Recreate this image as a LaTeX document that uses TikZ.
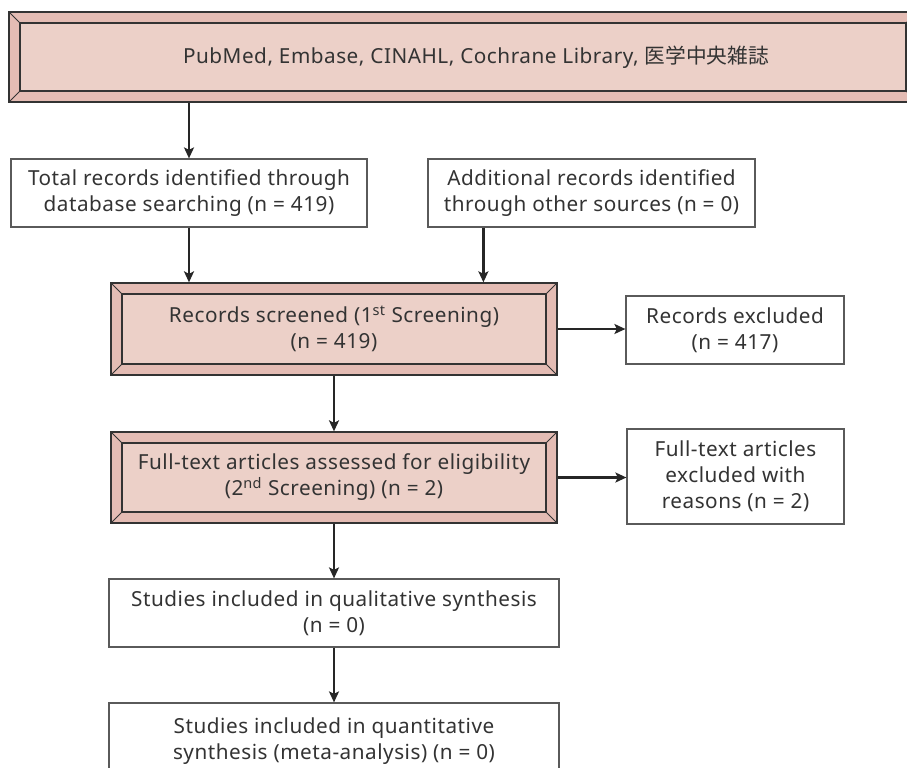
\documentclass[tikz,border=0pt]{standalone}
\usepackage{fontspec}
\setmainfont{Noto Sans}[LetterSpace=2.5]
\newfontfamily\cjk{Noto Sans CJK JP}
\usetikzlibrary{arrows.meta}
\definecolor{outerc}{RGB}{228,188,180}
\definecolor{innerc}{RGB}{236,208,200}
\definecolor{linec}{RGB}{51,51,51}
\definecolor{boxc}{RGB}{90,90,90}
\definecolor{txtc}{RGB}{51,51,51}
\newcommand\mysup[1]{\textsuperscript{#1}}
\begin{document}
\begin{tikzpicture}[x=1bp,y=1bp,
  every node/.style={font=\fontsize{20.8}{26}\selectfont, text=txtc, inner sep=0pt, align=center},
  plain/.style={draw=boxc, line width=1.2bp, fill=white},
  bevel/.style={draw=linec, line width=1.3bp, fill=outerc,
    path picture={
      \coordinate (bnw) at (path picture bounding box.north west);
      \coordinate (bse) at (path picture bounding box.south east);
      \coordinate (bne) at (path picture bounding box.north east);
      \coordinate (bsw) at (path picture bounding box.south west);
      \draw[linec, line width=1.3bp, fill=innerc] ([shift={(11,-11)}]bnw) rectangle ([shift={(-11,11)}]bse);
      \draw[linec, line width=1bp] (bnw) -- ([shift={(11,-11)}]bnw)
        (bse) -- ([shift={(-11,11)}]bse)
        (bne) -- ([shift={(-11,-11)}]bne)
        (bsw) -- ([shift={(11,11)}]bsw);
    }},
  arr/.style={draw=black!85, line width=2.2bp, -{Stealth[length=11bp,width=10bp,inset=2.5bp]}}]
\useasboundingbox (0,0) rectangle (907,-768);
\node[bevel, minimum width=908bp, minimum height=90bp] (db) at (463,-57) {};
\node (dbt) at (476,-57) {PubMed, Embase, CINAHL, Cochrane Library, {\cjk 医学中央雑誌}};
\node[plain, minimum width=356bp, minimum height=68bp] (tot) at (189,-193) {Total records identified through\\database searching (n = 419)};
\node[plain, minimum width=327bp, minimum height=68bp] (add) at (591.5,-193) {Additional records identified\\through other sources (n = 0)};
\node[bevel, minimum width=446bp, minimum height=92bp] (scr) at (334,-329) {Records screened (1\mysup{st} Screening)\\(n = 419)};
\node[plain, minimum width=218bp, minimum height=68bp] (exc) at (735,-330) {Records excluded\\(n = 417)};
\node[bevel, minimum width=446bp, minimum height=91bp] (ft) at (334,-477.5) {Full-text articles assessed for eligibility\\(2\mysup{nd} Screening) (n = 2)};
\node[plain, minimum width=217bp, minimum height=95bp] (ftx) at (735.5,-476.5) {Full-text articles\\excluded with\\reasons (n = 2)};
\node[plain, minimum width=450bp, minimum height=68bp] (qual) at (334,-613) {Studies included in qualitative synthesis\\(n = 0)};
\node[plain, minimum width=450bp, minimum height=76bp] (quant) at (334,-741) {Studies included in quantitative\\synthesis (meta-analysis) (n = 0)};
\coordinate (addout) at ([xshift=56bp]add.south west);
\draw[arr] (tot.north |- db.south) -- (tot.north);
\draw[arr] (tot.south) -- (tot.south |- scr.north);
\draw[arr] (addout) -- (addout |- scr.north);
\draw[arr] (scr.east) -- (scr.east -| exc.west);
\draw[arr] (scr.south) -- (ft.north);
\draw[arr] (ft.east) -- (ft.east -| ftx.west);
\draw[arr] (ft.south) -- (qual.north);
\draw[arr] (qual.south) -- (quant.north);
\end{tikzpicture}
\end{document}
